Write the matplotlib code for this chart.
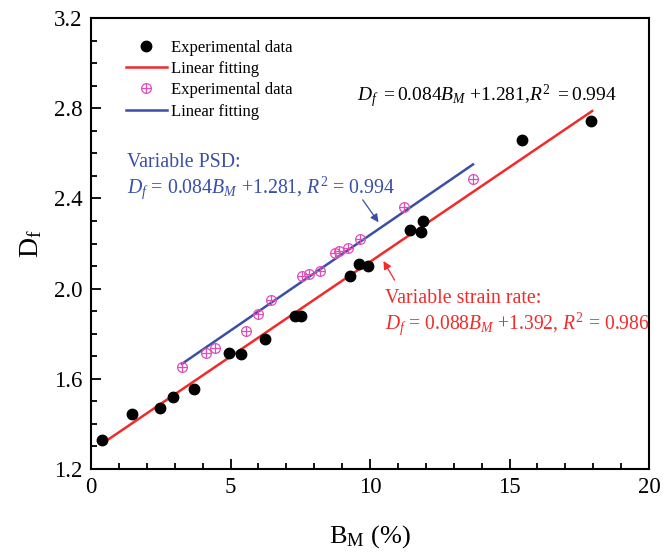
import matplotlib
matplotlib.use("Agg")
import matplotlib.pyplot as plt
from matplotlib.legend_handler import HandlerTuple
from matplotlib.ticker import MultipleLocator
import numpy as np

plt.rcParams["font.family"] = ["Liberation Serif", "DejaVu Serif"]
plt.rcParams["mathtext.fontset"] = "custom"
plt.rcParams["mathtext.rm"] = "Liberation Serif"
plt.rcParams["mathtext.it"] = "Liberation Serif:italic"

RED = "#f22a2a"
BLUE = "#3a4fa6"
PINK = "#dd4fb8"

# variable strain rate (black dots)
strain_bm = [0.39, 1.47, 2.47, 2.94, 3.69, 4.95, 5.38, 6.24, 7.31, 7.53,
             9.28, 9.61, 9.93, 11.43, 11.83, 11.90, 15.45, 17.92]
strain_df = [1.329, 1.444, 1.471, 1.520, 1.556, 1.716, 1.711, 1.778, 1.880, 1.880,
             2.058, 2.107, 2.102, 2.258, 2.249, 2.298, 2.658, 2.742]

# variable PSD (pink crossed circles)
psd_bm = [3.26, 4.12, 4.44, 5.56, 5.99, 6.45, 7.56, 7.81, 8.21, 8.75,
          8.89, 9.21, 9.64, 11.22, 13.69]
psd_df = [1.653, 1.716, 1.738, 1.813, 1.889, 1.951, 2.058, 2.067, 2.080, 2.160,
          2.169, 2.182, 2.222, 2.360, 2.484]

# fitted lines as drawn: slope, intercept, x range
red_fit = (0.084, 1.279)
red_range = (0.39, 17.96)
blue_fit = (0.0848, 1.390)
blue_range = (3.26, 13.69)

fig = plt.figure(figsize=(6.63, 5.56), dpi=100)
ax = fig.add_axes([0.1373, 0.1565, 0.8417, 0.811])

xr = np.array(red_range)
xb = np.array(blue_range)

h_black, = ax.plot(strain_bm, strain_df, "o", color="black", ms=7.5, zorder=3)
h_red, = ax.plot(xr, red_fit[0] * xr + red_fit[1], color=RED, lw=1.8, zorder=2)
h_pc, = ax.plot(psd_bm, psd_df, "o", mfc="none", mec=PINK, mew=0.9, ms=7, zorder=3)
h_pp, = ax.plot(psd_bm, psd_df, "+", color=PINK, mew=0.9, ms=7, zorder=3)
h_blue, = ax.plot(xb, blue_fit[0] * xb + blue_fit[1], color=BLUE, lw=1.8, zorder=2)

ax.legend([h_black, h_red, (h_pc, h_pp), h_blue],
          ["Experimental data", "Linear fitting", "Experimental data", "Linear fitting"],
          handler_map={tuple: HandlerTuple(ndivide=1, pad=0)},
          loc="upper left", bbox_to_anchor=(0.05, 0.967), frameon=False,
          fontsize=12, handlelength=2.5, handletextpad=0.25, labelspacing=0.32,
          borderaxespad=0)

ax.set_xlim(0, 20)
ax.set_ylim(1.2, 3.2)
ax.xaxis.set_major_locator(MultipleLocator(5))
ax.xaxis.set_minor_locator(MultipleLocator(1))
ax.yaxis.set_major_locator(MultipleLocator(0.4))
ax.yaxis.set_minor_locator(MultipleLocator(0.1))
ax.yaxis.set_major_formatter(matplotlib.ticker.FormatStrFormatter("%.1f"))
ax.tick_params(which="both", direction="in", top=False, right=False, labelsize=16.5, width=1.3)
ax.tick_params(which="major", length=7, pad=6)
ax.tick_params(which="minor", length=4)
for s in ax.spines.values():
    s.set_linewidth(1.5)

ax.set_xlabel(r"B$_\mathrm{M}$ (%)", fontsize=19, labelpad=18)
ax.set_ylabel(r"D$_\mathrm{f}$", fontsize=20, labelpad=7)

ax.text(1.29, 2.56, "Variable PSD:", color=BLUE, fontsize=14.3, va="center")
ax.text(1.29, 2.449, r"$D_f$ = 0.084$B_M$ +1.281, $R^2$ = 0.994", color=BLUE, fontsize=14.3, va="center")
ax.text(10.54, 1.956, "Variable strain rate:", color=RED, fontsize=14.3, va="center")
ax.text(10.54, 1.844, r"$D_f$ = 0.088$B_M$ +1.392, $R^2$ = 0.986", color=RED, fontsize=14.1, va="center")
ax.text(9.53, 2.853, r"$D_f$ $=$0.084$B_M$ $+$1.281,$R^2$ $=$0.994", color="black", fontsize=14, va="center")

ax.annotate("", xy=(10.36, 2.284), xytext=(9.68, 2.404),
            arrowprops=dict(arrowstyle="-|>", color=BLUE, lw=0.9, mutation_scale=12))
ax.annotate("", xy=(10.43, 2.133), xytext=(10.93, 2.027),
            arrowprops=dict(arrowstyle="-|>", color=RED, lw=0.9, mutation_scale=12))

fig.savefig("out.png", dpi=100)
